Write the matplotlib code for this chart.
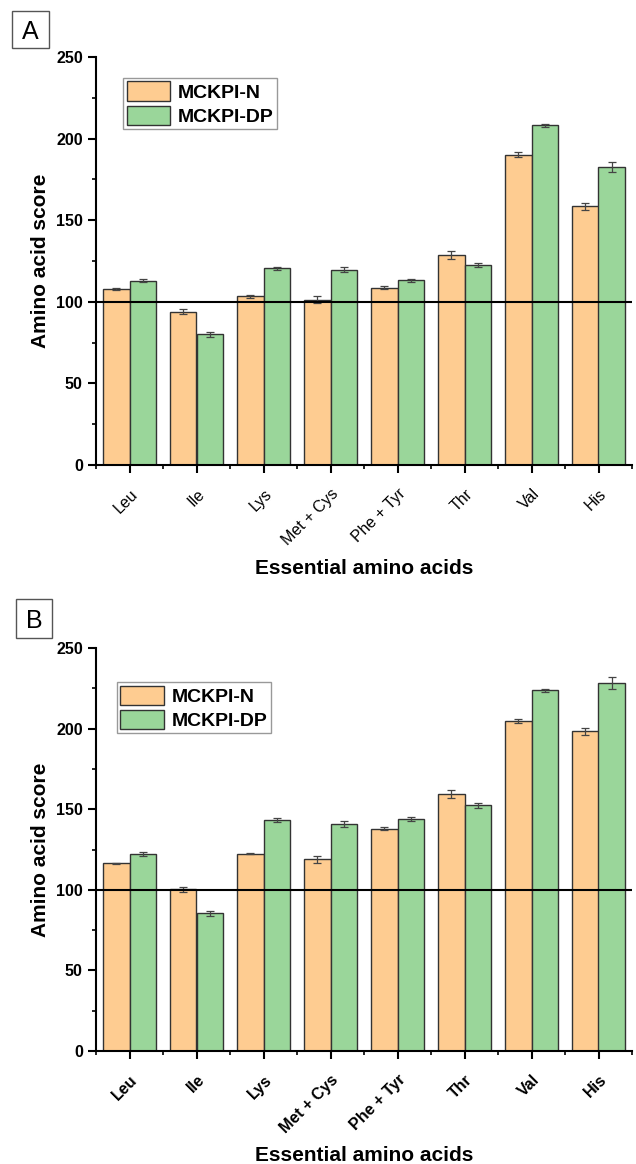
import matplotlib
matplotlib.use("Agg")
import matplotlib.pyplot as plt
import matplotlib.patches as mpatches
import matplotlib.transforms as mtransforms
from matplotlib.ticker import MultipleLocator
import numpy as np

plt.rcParams["font.family"] = ["Liberation Sans", "DejaVu Sans"]

amino_acids = ["Leu", "Ile", "Lys", "Met + Cys", "Phe + Tyr", "Thr", "Val", "His"]
series_names = ["MCKPI-N", "MCKPI-DP"]

# panel A
a_n = [107.7, 94.0, 103.3, 101.3, 108.6, 128.7, 190.2, 158.4]
a_n_err = [0.5, 1.5, 0.7, 2.0, 0.8, 2.2, 1.6, 2.0]
a_dp = [113.0, 80.0, 120.5, 119.7, 113.2, 122.6, 208.2, 182.8]
a_dp_err = [1.0, 1.6, 1.0, 1.6, 1.0, 1.4, 1.0, 3.0]

# panel B
b_n = [116.4, 100.3, 122.5, 118.9, 137.8, 159.7, 204.7, 198.3]
b_n_err = [0.5, 1.5, 0.6, 2.2, 1.0, 2.5, 1.5, 2.0]
b_dp = [122.2, 85.5, 143.1, 140.6, 143.7, 152.3, 223.8, 228.4]
b_dp_err = [1.0, 1.6, 1.2, 1.8, 1.2, 1.5, 1.0, 3.6]

W, H = 636, 1164

# letter, data, bold ticks, axes rect, legend top-left (px), letter box (x0, y0, x1, y1 px), xlabel pad
panels = [
    ("A", a_n, a_n_err, a_dp, a_dp_err, False, [96 / W, 1 - 465 / H, 536 / W, 408 / H],
     (123, 78), (12, 11, 49, 48), 8),
    ("B", b_n, b_n_err, b_dp, b_dp_err, True, [96 / W, 1 - 1051 / H, 536 / W, 403 / H],
     (117, 682), (16, 599, 52, 638), 7),
]

c_n = "#FECC91"
c_dp = "#9AD69A"
edge = "#333333"

fig = plt.figure(figsize=(W / 100, H / 100), dpi=100)

for letter, n, n_err, dp, dp_err, bold_ticks, rect, leg_px, box_px, xpad in panels:
    ax = fig.add_axes(rect)
    x = np.arange(1, len(amino_acids) + 1)
    w = 0.4
    ekw = dict(ecolor="#444444", elinewidth=0.9, capsize=3, capthick=0.9)
    ax.bar(x - w / 2, n, w, color=c_n, edgecolor=edge, lw=1.0, label=series_names[0],
           yerr=n_err, error_kw=ekw, zorder=2)
    ax.bar(x + w / 2, dp, w, color=c_dp, edgecolor=edge, lw=1.0, label=series_names[1],
           yerr=dp_err, error_kw=ekw, zorder=2)
    ax.axhline(100, color="black", lw=1.5, zorder=3)

    ax.set_xlim(0.5, 8.5)
    ax.set_ylim(0, 250)
    ax.yaxis.set_major_locator(MultipleLocator(50))
    ax.yaxis.set_minor_locator(MultipleLocator(25))
    ax.set_xticks(x)
    ax.set_xticks(np.arange(0.5, 9.0, 1.0), minor=True)

    for s in ["top", "right"]:
        ax.spines[s].set_visible(False)
    for s in ["left", "bottom"]:
        ax.spines[s].set_linewidth(1.5)
    ax.tick_params(which="major", direction="out", length=5.5, width=1.5, pad=4)
    ax.tick_params(which="minor", direction="out", length=3, width=1.2)

    ax.set_xticklabels(amino_acids, rotation=45, ha="right",
                       fontsize=11.5, fontweight="bold" if bold_ticks else "normal")
    # Origin puts the rotated labels a bit right of / below the tick
    shift = mtransforms.ScaledTranslation(11 / 100, -8 / 100, fig.dpi_scale_trans)
    for lab in ax.get_xticklabels():
        lab.set_transform(lab.get_transform() + shift)
    for lab in ax.get_yticklabels():
        lab.set_fontweight("bold")
        lab.set_fontsize(11.5)

    ax.set_ylabel("Amino acid score", fontsize=15, fontweight="bold", labelpad=4)
    ax.set_xlabel("Essential amino acids", fontsize=15, fontweight="bold", labelpad=xpad)

    leg = ax.legend(loc="upper left", bbox_to_anchor=(leg_px[0] / W, 1 - leg_px[1] / H),
                    bbox_transform=fig.transFigure,
                    prop=dict(weight="bold", size=14),
                    handlelength=2.25, handleheight=1.15, handletextpad=0.4,
                    labelspacing=0.2, borderpad=0.18, borderaxespad=0,
                    fancybox=False, edgecolor="#999999", framealpha=1)
    leg.get_frame().set_linewidth(1.0)

    x0, y0, x1, y1 = box_px
    fig.patches.append(mpatches.Rectangle((x0 / W, 1 - y1 / H), (x1 - x0) / W, (y1 - y0) / H,
                                          transform=fig.transFigure, fc="white",
                                          ec="#555555", lw=1.0))
    fig.text((x0 + x1) / 2 / W, 1 - (y0 + y1) / 2 / H, letter, fontsize=18,
             ha="center", va="center_baseline")

fig.savefig("out.png", dpi=100)
